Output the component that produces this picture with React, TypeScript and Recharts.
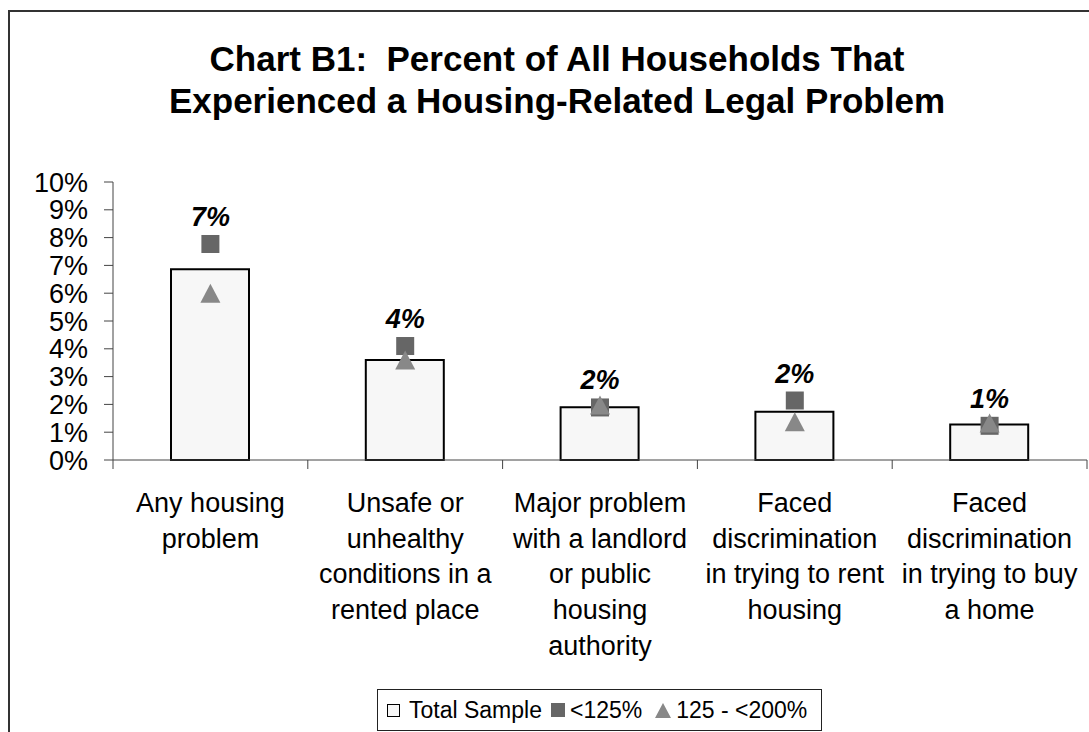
import React from 'react';
import { ComposedChart, Bar, Scatter, XAxis, YAxis, Legend } from 'recharts';

const categories = [
  'Any housing\nproblem',
  'Unsafe or\nunhealthy\nconditions in a\nrented place',
  'Major problem\nwith a landlord\nor public\nhousing\nauthority',
  'Faced\ndiscrimination\nin trying to rent\nhousing',
  'Faced\ndiscrimination\nin trying to buy\na home',
];
const totalSample = [6.86, 3.6, 1.9, 1.74, 1.28];
const below125 = [7.77, 4.1, 1.89, 2.14, 1.23];
const from125to200 = [6.0, 3.6, 1.98, 1.38, 1.33];
const totalLabels = ['7%', '4%', '2%', '2%', '1%'];
const yTicks = [0, 1, 2, 3, 4, 5, 6, 7, 8, 9, 10];

const data = categories.map((name, i) => ({
  name,
  total: totalSample[i],
  low: below125[i],
  mid: from125to200[i],
  label: totalLabels[i],
}));

const FONT = '"Liberation Sans", Arial, Helvetica, sans-serif';
const LABEL_GAP = 52;

// category label plus the tick marks that sit on the category boundaries
const CategoryTick = (props: any) => {
  const { x, y, payload, width, visibleTicksCount, index } = props;
  const lines = String(payload.value).split('\n');
  const band = width / visibleTicksCount;
  const axisY = y - LABEL_GAP;
  return (
    <g>
      <line x1={x - band / 2} x2={x - band / 2} y1={axisY} y2={axisY + 9} stroke="#444" />
      {index === visibleTicksCount - 1 && (
        <line x1={x + band / 2} x2={x + band / 2} y1={axisY} y2={axisY + 9} stroke="#444" />
      )}
      <text x={x} y={y} textAnchor="middle" fontFamily={FONT} fontSize={27} fill="#000">
        {lines.map((line, i) => (
          <tspan key={i} x={x} y={y + i * 35.7}>
            {line}
          </tspan>
        ))}
      </text>
    </g>
  );
};

const SquareMark = (props: any) => {
  const { cx, cy, payload } = props;
  return (
    <g>
      <rect x={cx - 9} y={cy - 9} width={18} height={18} fill="#666666" />
      <text
        x={cx}
        y={cy - 18}
        textAnchor="middle"
        fontFamily={FONT}
        fontSize={27}
        fontWeight="bold"
        fontStyle="italic"
        fill="#000"
      >
        {payload.label}
      </text>
    </g>
  );
};

const TriangleMark = (props: any) => {
  const { cx, cy } = props;
  return <polygon points={`${cx},${cy - 9.5} ${cx + 10},${cy + 9.5} ${cx - 10},${cy + 9.5}`} fill="#888888" />;
};

const LegendBox = () => (
  <div
    style={{
      boxSizing: 'border-box',
      width: 445,
      height: 42,
      border: '1px solid #222',
      background: '#fff',
      display: 'flex',
      alignItems: 'center',
      paddingLeft: 9,
      fontFamily: FONT,
      fontSize: 23,
      color: '#000',
      whiteSpace: 'nowrap',
    }}
  >
    <svg width={13} height={13} style={{ marginRight: 9 }}>
      <rect x={0.5} y={0.5} width={12} height={12} fill="#f7f7f7" stroke="#000" />
    </svg>
    <span>Total Sample</span>
    <svg width={14} height={14} style={{ marginLeft: 9, marginRight: 5 }}>
      <rect x={0} y={0} width={14} height={14} fill="#666666" />
    </svg>
    <span>&lt;125%</span>
    <svg width={16} height={15} style={{ marginLeft: 13, marginRight: 5 }}>
      <polygon points="8,0 16,15 0,15" fill="#888888" />
    </svg>
    <span>125 - &lt;200%</span>
  </div>
);

export default function App() {
  return (
    <div style={{ position: 'fixed', left: 0, top: 0, width: 1089, height: 732, overflow: 'hidden', background: '#fff' }}>
      <div
        style={{
          position: 'absolute',
          left: 8,
          top: 10,
          width: 1120,
          height: 760,
          borderLeft: '2px solid #333',
          borderTop: '2px solid #333',
        }}
      />
      <div
        style={{
          position: 'absolute',
          left: 8,
          top: 38,
          width: 1098,
          textAlign: 'center',
          fontFamily: FONT,
          fontWeight: 'bold',
          fontSize: 35,
          lineHeight: '42px',
          whiteSpace: 'pre',
          color: '#000',
        }}
      >
        {'Chart B1:  Percent of All Households That\nExperienced a Housing-Related Legal Problem'}
      </div>
      <div style={{ position: 'absolute', left: 0, top: 0 }}>
        <ComposedChart
          width={1089}
          height={732}
          data={data}
          margin={{ top: 182, right: 2, left: 0, bottom: 72 }}
          barCategoryGap={0}
        >
          <XAxis
            dataKey="name"
            height={200}
            axisLine={{ stroke: '#444', strokeWidth: 1 }}
            tickLine={false}
            tickSize={0}
            interval={0}
            tick={<CategoryTick />}
            tickMargin={LABEL_GAP}
          />
          <YAxis
            width={113}
            domain={[0, 10]}
            ticks={yTicks}
            interval={0}
            tickFormatter={(v: number) => `${v}%`}
            tickSize={9}
            tickMargin={16}
            axisLine={{ stroke: '#444', strokeWidth: 1 }}
            tickLine={{ stroke: '#444', strokeWidth: 1 }}
            tick={{ fontFamily: FONT, fontSize: 27, fill: '#000' }}
          />
          <Legend
            layout="horizontal"
            verticalAlign="middle"
            align="center"
            content={<LegendBox />}
            wrapperStyle={{ left: 377, top: 689, width: 445, height: 42 }}
          />
          <Bar
            dataKey="total"
            name="Total Sample"
            barSize={78}
            fill="#f7f7f7"
            stroke="#000"
            strokeWidth={2}
            isAnimationActive={false}
          />
          <Scatter dataKey="low" name="<125%" shape={<SquareMark />} isAnimationActive={false} />
          <Scatter dataKey="mid" name="125 - <200%" shape={<TriangleMark />} isAnimationActive={false} />
        </ComposedChart>
      </div>
    </div>
  );
}
